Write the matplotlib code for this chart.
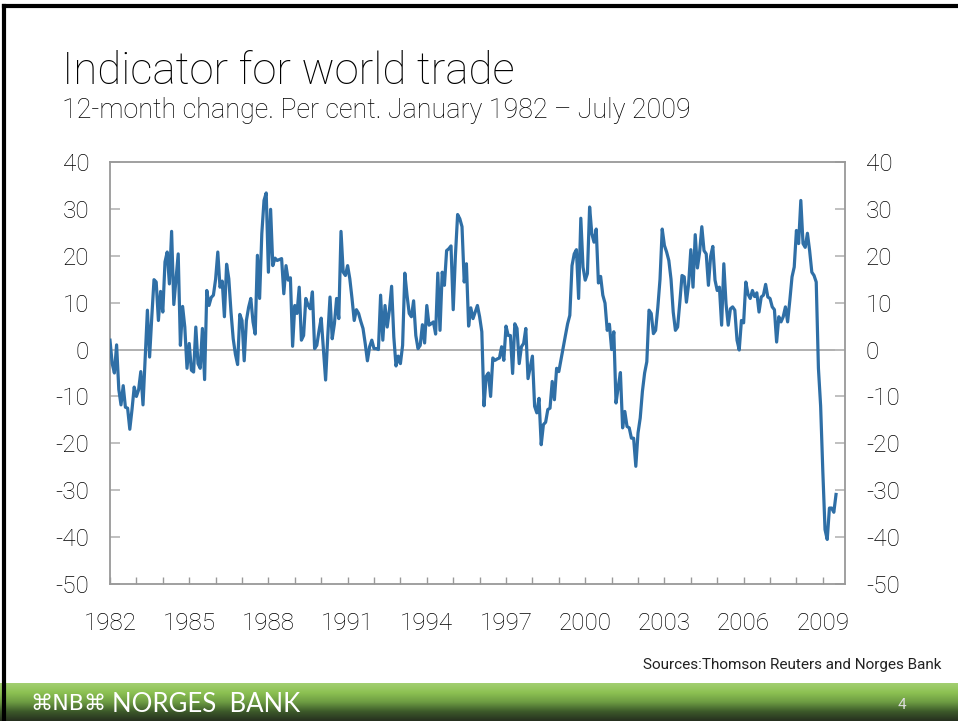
import numpy as np
import pandas as pd
import matplotlib
matplotlib.use("Agg")
import matplotlib.pyplot as plt
from matplotlib.colors import LinearSegmentedColormap

# Indicator for world trade, 12-month change in per cent, Jan 1982 - Jul 2009
first_month = "1982-01"
change = [
    2, -3, -5, 1, -8.5, -11.8, -7.7, -12.3, -12.5, -17, -12.8, -8,          # 1982
    -10, -8.6, -4.7, -11.8, -1.5, 8.4, -1.6, 7, 14.9, 14.4, 6.2, 12.4,       # 1983
    8, 18.7, 20.8, 14, 25.2, 9.6, 15, 20.4, 0.9, 9.2, 4.8, -4,               # 1984
    1.3, -4.4, -4.8, 4.8, -3, -4, 4.5, -6.4, 12.6, 9.4, 11.1, 11.6,          # 1985
    15, 20.8, 13.3, 14.6, 7, 18.2, 15.1, 8, 2.3, -1, -3.2, 7.5,              # 1986
    6.2, -2.4, 6.2, 9, 10.9, 5.9, 3.3, 20.1, 10.9, 24.7, 31.8, 33.4,         # 1987
    16.5, 29.9, 17.9, 19.5, 19, 19.2, 19.4, 11.9, 17.9, 14.8, 15.3, 0.7,     # 1988
    9.4, 7.7, 13.3, 2, 3, 10.9, 9.5, 8.7, 12.3, 0.2, 0.9, 4,                 # 1989
    6.7, 0, -6.5, 3, 11.2, 2.3, 5.5, 10.9, 6.6, 25.2, 16.5, 15.8,            # 1990
    17.9, 15.1, 10.9, 6.2, 8.5, 7.7, 6, 4.5, 1.3, -2.4, 0.6, 2,              # 1991
    0.2, 0.2, 0, 11.6, 2, 9.4, 4.8, 8.4, 13.5, 2.7, -3.5, -1.4,              # 1992
    -3, 0.9, 16.3, 11.6, 7.7, 7, 10.4, 3, 0.2, 0.9, 5.3, 1.4,                # 1993
    9.4, 5.2, 5.5, 5.9, 3.3, 16.3, 4.1, 16.5, 13.7, 21.1, 21.5, 22.1,        # 1994
    8.5, 20, 28.8, 27.9, 26.2, 14.4, 18.3, 5, 8.9, 6.6, 8, 9.4,              # 1995
    7, 3.8, -12, -5.7, -5, -10, -1.8, -2.3, -2, -1.8, 0.6, -2.3,             # 1996
    5, 3, 3, -5.1, 5.5, 4.5, -3, 0.6, 1.3, 4.5, -6.2, -3.8,                  # 1997
    -1.4, -12.1, -13.5, -10.4, -20.3, -16, -15.5, -12.8, -12.5, -6.8, -10.7, -4,  # 1998
    -4.7, -2.1, 0.6, 3, 5.5, 7.3, 17.9, 20.4, 21.3, 10.9, 28, 17.6,          # 1999
    14.8, 16.2, 30.4, 24.7, 22.9, 25.7, 14.2, 15.6, 11.6, 9.9, 4.1, 5.4,     # 2000
    0, 3.8, -11.4, -8, -4.9, -16.7, -13.2, -16.4, -16.7, -18.9, -18.9, -24.9,  # 2001
    -17.8, -14.6, -8.9, -5, -2.6, 8.4, 7.7, 3.4, 4.1, 9, 15, 25.7,           # 2002
    22.2, 20.8, 19, 15, 8, 4.1, 4.8, 10.1, 15.8, 15.5, 10.1, 14,             # 2003
    21.3, 13.3, 24.5, 17.4, 20.8, 26.2, 21.1, 20.4, 13.7, 19.9, 22, 14.8,    # 2004
    12.6, 13.3, 5.2, 18.3, 9.8, 5.2, 8.7, 9.1, 8.4, 2, -0.1, 6.2,            # 2005
    5.7, 14.4, 11.8, 10.9, 12.6, 11.3, 12.1, 8, 11.2, 11.6, 13.9, 11.2,      # 2006
    10.9, 9.1, 8.5, 1.6, 7, 5.9, 7, 9.1, 5.9, 10.5, 15.5, 17.6,              # 2007
    25.4, 22.6, 31.8, 22.6, 21.8, 24.8, 21.1, 16.5, 15.8, 14.4, -4, -12,     # 2008
    -26, -38.4, -40.5, -33.8, -33.8, -34.7, -30.9,                           # 2009
]

year_ticks = list(range(1982, 2010))
year_labels = [str(y) if (y - 1982) % 3 == 0 else "" for y in year_ticks]
y_ticks = [40, 30, 20, 10, 0, -10, -20, -30, -40, -50]

title = "Indicator for world trade"
subtitle = "12-month change. Per cent. January 1982 \u2013 July 2009"
source = "Sources:Thomson Reuters and Norges Bank"

dates = pd.date_range(first_month, periods=len(change), freq="MS")
x = dates.year + (dates.month - 1) / 12.0

plt.rcParams["font.family"] = ["Roboto", "DejaVu Sans"]

fig = plt.figure(figsize=(9.58, 7.21), dpi=100)
ax = fig.add_axes([110 / 958, 1 - 584 / 721, 735 / 958, 422 / 721])

ax.axhline(0, color="#aaaaaa", lw=1.3, zorder=1)
ax.plot(x, change, color="#2f6fa6", lw=2.3, zorder=3, solid_joinstyle="round")

ax.set_xlim(1982, 2009.84)
ax.set_ylim(-50, 40)
ax.set_xticks(year_ticks)
ax.set_xticklabels(year_labels)
ax.set_yticks(y_ticks)
ax.set_yticklabels([str(v) for v in y_ticks])

for s in ax.spines.values():
    s.set_color("#999999")
    s.set_linewidth(1.3)

ax.tick_params(axis="x", direction="in", length=5, width=1, color="#999999",
               labelsize=17.5, pad=20)
ax.tick_params(axis="y", direction="in", length=7, width=1.3, color="#bbbbbb",
               labelsize=17.5, pad=15, left=True, right=True,
               labelleft=True, labelright=True)
for lab in ax.get_xticklabels() + ax.get_yticklabels():
    lab.set_fontweight("light")

fig.text(62 / 958, 1 - 72 / 721, title, fontsize=31.5, fontweight="light",
         va="center", ha="left")
fig.text(62 / 958, 1 - 110 / 721, subtitle, fontsize=19.4, fontweight="light",
         va="center", ha="left")
fig.text(643 / 958, 1 - 665 / 721, source, fontsize=11, va="center", ha="left",
         color="#222222")

# green footer band
bar = fig.add_axes([0, 0, 1, 38 / 721])
cmap = LinearSegmentedColormap.from_list(
    "nb", ["#26301f", "#3d5a2a", "#6d9c43", "#8cc152", "#a3cf72"])
grad = np.linspace(0, 1, 100).reshape(-1, 1)
bar.imshow(grad, cmap=cmap, aspect="auto", origin="lower", extent=[0, 1, 0, 1])
bar.set_axis_off()
fig.text(30 / 958, 1 - 704 / 721, "\u2318NB\u2318", fontsize=16, color="white",
         va="center", ha="left", family=["DejaVu Sans"])
fig.text(112 / 958, 1 - 704 / 721, "NORGES  BANK",
         fontsize=18.5, color="white", va="center", ha="left",
         family=["Lato", "DejaVu Sans"])
fig.text(902 / 958, 1 - 705 / 721, "4", fontsize=11, color="#dddddd",
         va="center", ha="center")

# slide border (top and left)
fig.add_artist(plt.Line2D([4 / 958, 4 / 958], [0, 1 - 6 / 721], color="black",
                          lw=3, transform=fig.transFigure))
fig.add_artist(plt.Line2D([4 / 958, 1], [1 - 6 / 721, 1 - 6 / 721], color="black",
                          lw=3, transform=fig.transFigure))

fig.savefig("out.png", dpi=100)
